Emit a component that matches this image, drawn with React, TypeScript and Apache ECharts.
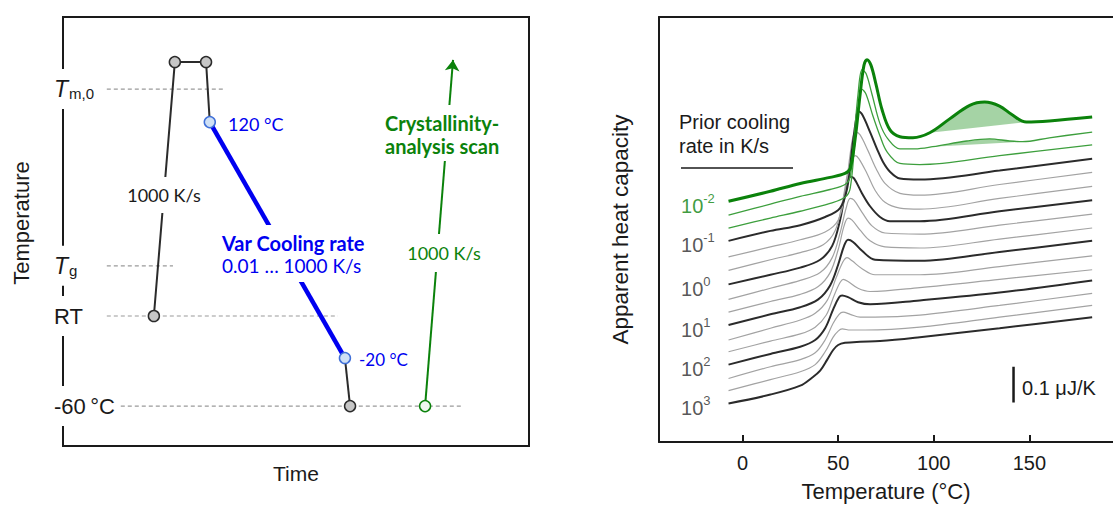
import React, { useEffect, useRef } from 'react';
import * as echarts from 'echarts';

// ---------------- Right panel data: apparent heat capacity (μJ/K, curves offset for clarity) ----------------
// each curve: [temperature °C, apparent heat capacity μJ/K]
const cp_rate_m2_00 = [[-7.3,0.675],[14.6,0.703],[30.2,0.725],[45.8,0.742],[53.6,0.753],[56.3,0.767],[58.9,0.85],[61.5,0.975],[63.5,1.056],[65.1,1.072],[67.2,1.056],[69.8,1.003],[72.9,0.933],[77.1,0.875],[82.3,0.856],[89.1,0.853],[97.9,0.867],[108.3,0.906],[118.8,0.944],[126.6,0.953],[134.4,0.942],[140.6,0.919],[148.4,0.897],[160.4,0.9],[182.8,0.911]];
const cp_rate_m1_67 = [[-7.3,0.636],[14.6,0.667],[30.2,0.689],[45.8,0.708],[53.6,0.722],[56.3,0.744],[58.3,0.85],[60.4,0.975],[62.5,1.044],[64.6,1.033],[67.7,0.975],[71.9,0.892],[76,0.85],[82.3,0.822],[90.1,0.822],[99.5,0.828],[117.2,0.844],[129.2,0.85],[139.6,0.844],[146.4,0.842],[160.4,0.853],[182.8,0.869]];
const cp_rate_m1_33 = [[-7.3,0.6],[14.6,0.628],[30.2,0.647],[45.8,0.669],[53.6,0.686],[56.3,0.711],[58.9,0.85],[60.9,0.947],[62.5,0.989],[64.6,0.975],[68.2,0.914],[71.9,0.858],[75.5,0.814],[82.3,0.781],[92.7,0.778],[134.4,0.803],[182.8,0.833]];
const cp_rate_m1_00 = [[-7.3,0.564],[14.6,0.592],[30.2,0.608],[43.2,0.631],[51,0.656],[54.7,0.711],[57.3,0.822],[59.4,0.906],[60.4,0.928],[62.5,0.919],[66.7,0.869],[70.3,0.822],[73.4,0.786],[77.1,0.758],[82.3,0.739],[92.7,0.736],[134.4,0.761],[182.8,0.794]];
const cp_rate_m0_67 = [[-7.3,0.519],[14.6,0.547],[30.2,0.567],[43.2,0.589],[50,0.622],[53.6,0.697],[56.3,0.808],[57.8,0.856],[59.4,0.869],[61.5,0.861],[65.6,0.817],[69.8,0.767],[74.5,0.725],[82.3,0.697],[92.7,0.692],[134.4,0.722],[182.8,0.756]];
const cp_rate_m0_33 = [[-7.3,0.481],[14.6,0.511],[30.2,0.531],[42.2,0.553],[48.4,0.592],[52.1,0.669],[55.2,0.761],[57.3,0.794],[58.9,0.803],[60.9,0.794],[65.1,0.753],[69.3,0.706],[74.5,0.672],[82.3,0.656],[92.7,0.653],[134.4,0.683],[182.8,0.717]];
const cp_rate_p0_00 = [[-7.3,0.442],[14.6,0.469],[30.2,0.489],[40.6,0.511],[46.9,0.55],[51,0.622],[53.6,0.697],[55.2,0.733],[56.3,0.744],[58.3,0.739],[62.5,0.697],[66.7,0.661],[71.9,0.631],[77.1,0.619],[92.7,0.619],[134.4,0.647],[182.8,0.678]];
const cp_rate_p0_33 = [[-7.3,0.4],[14.6,0.431],[30.2,0.453],[40.6,0.475],[46.9,0.517],[51,0.586],[54.2,0.656],[56.3,0.683],[58.3,0.678],[62.5,0.644],[67.7,0.606],[74.5,0.586],[92.7,0.583],[134.4,0.608],[182.8,0.639]];
const cp_rate_p0_67 = [[-7.3,0.364],[14.6,0.394],[30.2,0.414],[39.6,0.436],[45.8,0.475],[50,0.539],[53.1,0.606],[55.2,0.628],[57.3,0.622],[61.5,0.594],[66.7,0.564],[74.5,0.547],[92.7,0.544],[134.4,0.569],[182.8,0.6]];
const cp_rate_p1_00 = [[-7.3,0.328],[14.6,0.358],[30.2,0.378],[39.6,0.4],[45.8,0.439],[50,0.497],[53.1,0.55],[55.2,0.567],[57.8,0.561],[62.5,0.536],[69.3,0.511],[92.7,0.508],[134.4,0.533],[182.8,0.564]];
const cp_rate_p1_33 = [[-7.3,0.286],[14.6,0.319],[30.2,0.342],[38,0.361],[44.3,0.397],[49,0.461],[52.6,0.506],[54.7,0.517],[57.3,0.508],[62.5,0.486],[69.3,0.469],[92.7,0.469],[134.4,0.492],[182.8,0.522]];
const cp_rate_p1_67 = [[-7.3,0.253],[14.6,0.283],[30.2,0.303],[38,0.322],[43.8,0.356],[47.9,0.411],[51,0.447],[52.6,0.456],[55.2,0.45],[60.4,0.431],[66.7,0.422],[92.7,0.433],[134.4,0.456],[182.8,0.483]];
const cp_rate_p2_00 = [[-7.3,0.217],[14.6,0.247],[30.2,0.267],[38,0.286],[43.2,0.319],[47.4,0.372],[50.5,0.406],[52.1,0.411],[55.2,0.406],[60.4,0.392],[66.7,0.386],[92.7,0.397],[134.4,0.419],[182.8,0.453]];
const cp_rate_p2_33 = [[-7.3,0.178],[14.6,0.211],[30.2,0.231],[38,0.25],[43.2,0.286],[47.4,0.333],[50.5,0.358],[52.6,0.364],[56.3,0.358],[61.5,0.35],[69.3,0.35],[92.7,0.356],[134.4,0.383],[182.8,0.417]];
const cp_rate_p2_67 = [[-7.3,0.144],[14.6,0.175],[30.2,0.197],[38,0.217],[43.2,0.253],[47.4,0.294],[50,0.311],[52.1,0.317],[56.3,0.314],[64.1,0.314],[92.7,0.322],[134.4,0.35],[182.8,0.383]];
const cp_rate_p3_00 = [[-7.3,0.108],[14.6,0.133],[30.2,0.158],[36.5,0.181],[40.6,0.2],[44.3,0.231],[47.4,0.258],[50,0.272],[53.6,0.278],[61.5,0.281],[71.9,0.283],[92.7,0.294],[134.4,0.319],[182.8,0.35]];

// top (slowest prior cooling, 10^-2 K/s) to bottom (10^3 K/s)
const curves = [cp_rate_m2_00, cp_rate_m1_67, cp_rate_m1_33, cp_rate_m1_00, cp_rate_m0_67, cp_rate_m0_33,
  cp_rate_p0_00, cp_rate_p0_33, cp_rate_p0_67, cp_rate_p1_00, cp_rate_p1_33, cp_rate_p1_67,
  cp_rate_p2_00, cp_rate_p2_33, cp_rate_p2_67, cp_rate_p3_00];
const rateExponents = [-2, -1.67, -1.33, -1, -0.67, -0.33, 0, 0.33, 0.67, 1, 1.33, 1.67, 2, 2.33, 2.67, 3];
const labelledCurves = [0, 3, 6, 9, 12, 15];
const labelExponentText = ['-2', '-1', '0', '1', '2', '3'];
// crystallization peaks (shaded) : [curve index, T start, T end]
const shadedPeaks = [[0, 97.9, 148.4], [1, 99.5, 146.4]];
const xTicks = [0, 50, 100, 150];
const xRange = [-43.65, 193.7];
const scaleBarT = 141.7;
const scaleBarV = [0.111, 0.211]; // 0.1 μJ/K

// ---------------- Left panel data: schematic temperature programme (time, level: arbitrary units) ----------------
const meltPath = [[19.5, 30.3], [24.0, 89.5], [30.7, 89.5], [31.5, 75.5]];
const coolPath = [[31.5, 75.5], [60.5, 20.5]];
const quenchPath = [[60.5, 20.5], [61.6, 9.3]];
const scanArrow = [[77.7, 9.3], [83.7, 90.0]];
const grayDots = [[19.5, 30.3], [24.0, 89.5], [30.7, 89.5], [61.6, 9.3]];
const blueDots = [[31.5, 75.5], [60.5, 20.5]];
const greenDots = [[77.7, 9.3]];
const refLevels = [83.2, 42.0, 30.3, 9.3];
const refFrom = [9.4, 9.4, 9.4, 12.4];
const refTo = [34.8, 23.6, 59.0, 85.4];
const refLabels = ['{i|T}{s|m,0}', '{i|T}{s|g}', '{r|RT}', '{r|-60\u2009°C}'];

const ARIAL = "'Liberation Sans', Arial, sans-serif";
const CAL = "Lato, 'Open Sans', sans-serif";
const INK = '#1a1a1a';
const GREEN = '#0b820b';
const GREEN_THIN = '#3d9f3d';
const BLUE = '#0000f0';

function curveStyle(i: number) {
  if (i === 0) return { color: GREEN, width: 3 };
  if (i < 3) return { color: GREEN_THIN, width: 1.3 };
  if (i % 3 === 0) return { color: '#2b2b2b', width: 2 };
  return { color: '#a3a3a3', width: 1.2 };
}

export default function App() {
  const ref = useRef<HTMLDivElement>(null);
  useEffect(() => {
    if (!ref.current) return;
    const chart = echarts.init(ref.current, undefined, { renderer: 'svg' });

    const curveSeries: any[] = [];
    for (let i = curves.length - 1; i >= 0; i--) {
      curveSeries.push({
        type: 'line', name: '10^' + rateExponents[i] + ' K/s', xAxisIndex: 1, yAxisIndex: 1,
        data: curves[i], smooth: 0.35, symbol: 'none', silent: true,
        lineStyle: curveStyle(i), z: 3,
      });
    }

    const shadeSeries = shadedPeaks.map(([ci, a, b]) => {
      const pts = curves[ci].filter((p) => p[0] >= a && p[0] <= b);
      return {
        type: 'custom', xAxisIndex: 1, yAxisIndex: 1, silent: true, z: 2,
        data: [pts[0]],
        renderItem: (_p: any, api: any) => ({
          type: 'polygon',
          shape: { points: pts.map((p) => api.coord(p)) },
          style: { fill: 'rgba(40,150,40,0.42)', stroke: 'none' },
        }),
      };
    });

    const refSeries = refLevels.map((lv, k) => ({
      type: 'line', xAxisIndex: 0, yAxisIndex: 0, silent: true, symbol: 'none', z: 1,
      data: [[refFrom[k], lv], [refTo[k], lv]],
      lineStyle: { color: '#9a9a9a', width: 1.2, type: [4, 3] },
    }));

    const dot = (data: number[][], fill: string, stroke: string) => ({
      type: 'scatter', xAxisIndex: 0, yAxisIndex: 0, data, symbolSize: 11, silent: true, z: 6,
      itemStyle: { color: fill, borderColor: stroke, borderWidth: 1.5, opacity: 1 },
    });

    const rateLabelSeries = {
      type: 'scatter', xAxisIndex: 1, yAxisIndex: 1, symbolSize: 1, silent: true, z: 5,
      itemStyle: { color: 'rgba(0,0,0,0)' },
      data: labelledCurves.map((ci, k) => ({
        value: curves[ci][0],
        label: {
          show: true, position: [-47, 3], align: 'left', verticalAlign: 'middle',
          formatter: '{n|10}{p|' + labelExponentText[k] + '}',
          color: ci === 0 ? GREEN : '#2b2b2b',
          rich: {
            n: { fontSize: 20, lineHeight: 24, fontFamily: ARIAL, color: ci === 0 ? GREEN : '#2b2b2b', verticalAlign: 'bottom' },
            p: { fontSize: 13, lineHeight: 13, fontFamily: ARIAL, color: ci === 0 ? GREEN : '#2b2b2b', verticalAlign: 'top' },
          },
        },
      })),
    };

    const frameLine = { show: true, onZero: false, lineStyle: { color: INK, width: 2 } };

    const option: any = {
      animation: false,
      backgroundColor: '#ffffff',
      textStyle: { fontFamily: ARIAL },
      grid: [
        { left: 63, top: 17, width: 466, height: 429, show: true, borderColor: INK, borderWidth: 2, z: 0 },
        { left: 659, top: 17, width: 454, height: 429, show: false },
      ],
      xAxis: [
        {
          gridIndex: 0, type: 'value', min: 0, max: 100, name: 'Time', nameLocation: 'middle', nameGap: 17,
          nameTextStyle: { fontSize: 21, color: INK, fontFamily: ARIAL },
          axisLine: { show: false }, axisTick: { show: false }, axisLabel: { show: false }, splitLine: { show: false },
        },
        {
          gridIndex: 1, type: 'value', min: xRange[0], max: xRange[1], name: 'Temperature (°C)', nameLocation: 'middle', nameGap: 38,
          nameTextStyle: { fontSize: 22, color: INK, fontFamily: ARIAL },
          axisLine: frameLine,
          axisTick: { show: true, inside: true, length: 7, customValues: xTicks, lineStyle: { color: INK, width: 2 } },
          axisLabel: { customValues: xTicks, fontSize: 20, margin: 11, color: INK, fontFamily: ARIAL },
          splitLine: { show: false },
        },
        {
          gridIndex: 1, type: 'value', position: 'top', min: xRange[0], max: xRange[1],
          axisLine: frameLine, axisTick: { show: false }, axisLabel: { show: false }, splitLine: { show: false },
        },
      ],
      yAxis: [
        {
          gridIndex: 0, type: 'value', min: 0, max: 100, z: 5,
          name: 'Temperature', nameLocation: 'middle', nameGap: 31, nameRotate: 90,
          nameTextStyle: { fontSize: 22, color: INK, fontFamily: ARIAL, padding: [0, 0, 0, 17] },
          axisLine: { show: false }, axisTick: { show: false }, splitLine: { show: false },
          axisLabel: {
            customValues: refLevels,
            formatter: (v: number) => {
              const k = refLevels.findIndex((l) => Math.abs(l - v) < 0.05);
              return k >= 0 ? refLabels[k] : '';
            },
            align: 'left', margin: 11, backgroundColor: '#ffffff', padding: [8, 2, 8, 2],
            color: INK, fontFamily: ARIAL,
            rich: {
              i: { fontStyle: 'italic', fontSize: 23, lineHeight: 24, fontFamily: ARIAL, color: INK },
              s: { fontSize: 15, lineHeight: 15, fontFamily: ARIAL, color: INK, verticalAlign: 'bottom', padding: [5, 0, 0, 1] },
              r: { fontSize: 22, lineHeight: 24, fontFamily: ARIAL, color: INK },
            },
          },
        },
        {
          gridIndex: 1, type: 'value', min: 0, max: 1.19167,
          name: 'Apparent heat capacity', nameLocation: 'middle', nameGap: 27, nameRotate: 90,
          nameTextStyle: { fontSize: 22.5, color: INK, fontFamily: ARIAL },
          axisLine: frameLine, axisTick: { show: false }, axisLabel: { show: false }, splitLine: { show: false },
        },
      ],
      series: [
        ...refSeries,
        { type: 'line', xAxisIndex: 0, yAxisIndex: 0, data: meltPath, symbol: 'none', silent: true, z: 3, lineStyle: { color: '#2b2b2b', width: 2 } },
        { type: 'line', xAxisIndex: 0, yAxisIndex: 0, data: coolPath, symbol: 'none', silent: true, z: 3, lineStyle: { color: BLUE, width: 4.5 } },
        { type: 'line', xAxisIndex: 0, yAxisIndex: 0, data: quenchPath, symbol: 'none', silent: true, z: 3, lineStyle: { color: '#2b2b2b', width: 2 } },
        {
          type: 'lines', coordinateSystem: 'cartesian2d', xAxisIndex: 0, yAxisIndex: 0, silent: true, z: 3,
          data: [{ coords: scanArrow }], symbol: ['none', 'arrow'], symbolSize: 11,
          lineStyle: { color: GREEN, width: 2, opacity: 1, curveness: 0 },
        },
        dot(grayDots, '#c6c6c6', '#2b2b2b'),
        dot(blueDots, '#cfe0f5', '#3f6fd8'),
        dot(greenDots, '#eef7ee', GREEN),
        ...shadeSeries,
        ...curveSeries,
        rateLabelSeries,
        {
          type: 'line', xAxisIndex: 1, yAxisIndex: 1, silent: true, symbol: 'none', z: 3,
          data: [[scaleBarT, scaleBarV[0]], [scaleBarT, scaleBarV[1]]],
          lineStyle: { color: INK, width: 2.5 },
        },
      ],
      graphic: [
        { type: 'text', z: 100, x: 164, y: 195, style: { text: '1000 K/s', fill: INK, fontSize: 18, fontFamily: CAL, align: 'center', verticalAlign: 'middle', backgroundColor: '#ffffff', padding: [9, 3] } },
        { type: 'text', z: 100, x: 228, y: 124, style: { text: '120 °C', fill: BLUE, fontSize: 18, fontFamily: CAL, align: 'left', verticalAlign: 'middle' } },
        {
          type: 'text', z: 100, x: 222, y: 225,
          style: {
            text: '{b|Var Cooling rate}\n{n|0.01 … 1000 K/s}', align: 'left', verticalAlign: 'top',
            backgroundColor: '#ffffff', padding: [7, 4, 6, 0],
            rich: {
              b: { fill: BLUE, fontSize: 20, fontWeight: 'bold', fontFamily: CAL, lineHeight: 22 },
              n: { fill: BLUE, fontSize: 19, fontFamily: CAL, lineHeight: 22 },
            },
          },
        },
        { type: 'text', z: 100, x: 359, y: 359, style: { text: '-20 °C', fill: BLUE, fontSize: 17, fontFamily: CAL, align: 'left', verticalAlign: 'middle' } },
        {
          type: 'text', z: 100, x: 385, y: 105,
          style: {
            text: 'Crystallinity-\nanalysis scan', fill: GREEN, fontSize: 20, fontWeight: 'bold', fontFamily: CAL,
            lineHeight: 23, align: 'left', verticalAlign: 'top', backgroundColor: '#ffffff', padding: [6, 2, 4, 0],
          },
        },
        { type: 'text', z: 100, x: 444, y: 253, style: { text: '1000 K/s', fill: GREEN, fontSize: 18, fontFamily: CAL, align: 'center', verticalAlign: 'middle', backgroundColor: '#ffffff', padding: [10, 3] } },
        { type: 'text', z: 100, x: 679, y: 110, style: { text: 'Prior cooling\nrate in K/s', fill: INK, fontSize: 20, fontFamily: ARIAL, lineHeight: 24, align: 'left', verticalAlign: 'top' } },
        { type: 'line', z: 100, shape: { x1: 681, y1: 168, x2: 793, y2: 168 }, style: { stroke: INK, lineWidth: 1.5 } },
        { type: 'text', z: 100, x: 1022, y: 388, style: { text: '0.1 μJ/K', fill: INK, fontSize: 20, fontFamily: ARIAL, align: 'left', verticalAlign: 'middle' } },
      ],
    };
    chart.setOption(option);
    return () => chart.dispose();
  }, []);
  return <div ref={ref} style={{ position: 'absolute', left: 0, top: 0, width: 1113, height: 507 }} />;
}
